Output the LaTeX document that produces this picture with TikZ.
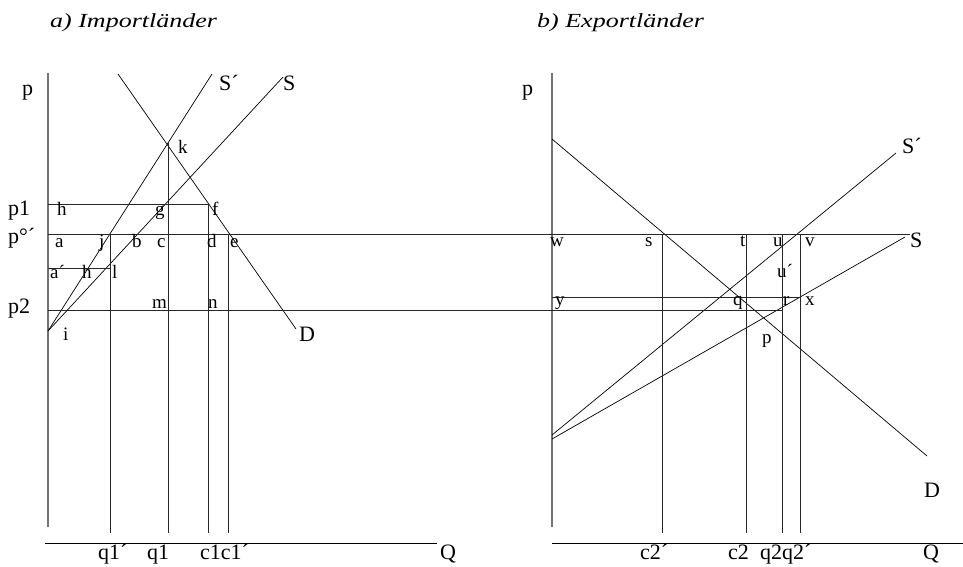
\documentclass[tikz,border=0pt]{standalone}
\usepackage{fontspec}
\setmainfont{Liberation Serif}
\newfontfamily\titlefont{Liberation Serif}[FakeStretch=1.3]
\usetikzlibrary{calc}

\begin{document}
\begin{tikzpicture}[
    x=1pt, y=-1pt,
    curve/.style={line width=0.7pt, color=black},
    guide/.style={line width=0.8pt, color=black!85},
    paxis/.style={line width=1.1pt, color=black!55},
    qaxis/.style={line width=0.8pt, color=black},
    lbl/.style={font=\fontsize{19}{19}\selectfont, inner sep=0pt, anchor=base west},
    big/.style={font=\fontsize{22}{22}\selectfont, inner sep=0pt, anchor=base west},
    ttl/.style={font=\titlefont\fontsize{20}{20}\selectfont\itshape, inner sep=0pt, anchor=base west},
  ]
  \useasboundingbox (0,0) rectangle (963,566);

  % Titles
  \node[ttl] (ttlA) at (50,27)  {a) Importländer};
  \node[ttl] (ttlB) at (537,27) {b) Exportländer};

  % a) Importländer -- points
  \coordinate (pTopA) at (48,73);
  \coordinate (pBotA) at (48,527);
  \coordinate (qLA)   at (45,543);
  \coordinate (qRA)   at (437,543);
  \coordinate (ptI)   at (48,331);
  \coordinate (spEndA) at (212,74);
  \coordinate (sEndA)  at (283,77);
  \coordinate (dTopA)  at (118,74);
  \coordinate (dEndA)  at (296,329);
  \coordinate (ptK) at (168,143);
  \coordinate (ptH) at (48,204);
  \coordinate (ptF) at (208,204);
  \coordinate (ptA) at (48,234);
  \coordinate (ptJ) at (110,234);
  \coordinate (ptE) at (228,234);
  \coordinate (ptAp) at (48,268);
  \coordinate (ptL)  at (110,268);
  \coordinate (ptP2) at (48,310);
  \coordinate (ptJb) at (110,533);
  \coordinate (ptKb) at (168,533);
  \coordinate (ptFb) at (208,533);
  \coordinate (ptEb) at (228,533);

  % b) Exportländer -- points
  \coordinate (pTopB) at (552,73);
  \coordinate (pBotB) at (552,527);
  \coordinate (qLB)   at (552,543);
  \coordinate (qRB)   at (963,543);
  \coordinate (dTopB) at (552,139);
  \coordinate (dEndB) at (927,456);
  \coordinate (spStB) at (552,435);
  \coordinate (spEndB) at (896,153);
  \coordinate (sStB)  at (552,439);
  \coordinate (sEndB) at (905,237);
  \coordinate (ptVend) at (910,234);
  \coordinate (ptY) at (552,297);
  \coordinate (ptX) at (800,297);
  \coordinate (ptR) at (782,310);
  \coordinate (ptS) at (662,234);
  \coordinate (ptT) at (746,234);
  \coordinate (ptU) at (782,234);
  \coordinate (ptV) at (800,234);
  \coordinate (ptSb) at (662,533);
  \coordinate (ptTb) at (746,533);
  \coordinate (ptUb) at (782,533);
  \coordinate (ptVb) at (800,533);

  % axes
  \draw[paxis] (pTopA) -- (pBotA);
  \draw[qaxis] (qLA) -- (qRA);
  \draw[paxis] (pTopB) -- (pBotB);
  \draw[qaxis] (qLB) -- (qRB);

  % supply and demand, import side
  \draw[curve] (ptI) -- (spEndA);
  \draw[curve] (ptI) -- (sEndA);
  \draw[curve] (dTopA) -- (dEndA);

  % supply and demand, export side
  \draw[curve] (dTopB) -- (dEndB);
  \draw[curve] (spStB) -- (spEndB);
  \draw[curve] (sStB) -- (sEndB);

  % price lines
  \draw[guide] (ptH) -- (ptF);
  \draw[guide] (ptA) -- (ptVend);
  \draw[guide] (ptAp) -- (ptL);
  \draw[guide] (ptP2) -- (ptR);
  \draw[guide] (ptY) -- (ptX);

  % quantity lines
  \draw[guide] (ptJ) -- (ptJb);
  \draw[guide] (ptK) -- (ptKb);
  \draw[guide] (ptF) -- (ptFb);
  \draw[guide] (ptE) -- (ptEb);
  \draw[guide] (ptS) -- (ptSb);
  \draw[guide] (ptT) -- (ptTb);
  \draw[guide] (ptU) -- (ptUb);
  \draw[guide] (ptV) -- (ptVb);

  % labels, import side
  \node[big] (lpA)  at (22,95)  {p};
  \node[big] (lp1)  at (8,215)  {p1};
  \node[big] (lp0)  at (8,243)  {p°´};
  \node[big] (lp2)  at (8,313)  {p2};
  \node[big] (lSpA) at (219,90) {S´};
  \node[big] (lSA)  at (283,90) {S};
  \node[big] (lDA)  at (299,341) {D};
  \node[lbl] (lh)  at (57,215)  {h};
  \node[lbl] (lg)  at (155,215) {g};
  \node[lbl] (lf)  at (212,215) {f};
  \node[lbl] (la)  at (55,247)  {a};
  \node[lbl] (lj)  at (99,247)  {j};
  \node[lbl] (lb)  at (132,247) {b};
  \node[lbl] (lc)  at (157,247) {c};
  \node[lbl] (ld)  at (207,247) {d};
  \node[lbl] (le)  at (230,247) {e};
  \node[lbl] (lap) at (50,278)  {a´};
  \node[lbl] (lh2) at (82,278)  {h};
  \node[lbl] (ll)  at (112,278) {l};
  \node[lbl] (lm)  at (152,308) {m};
  \node[lbl] (ln)  at (208,308) {n};
  \node[lbl] (li)  at (63,340)  {i};
  \node[lbl] (lk)  at (178,153) {k};
  \node[big] (lq1p) at (98,559)  {q1´};
  \node[big] (lq1)  at (147,559) {q1};
  \node[big] (lc1)  at (200,559) {c1c1´};
  \node[big] (lQA)  at (440,559) {Q};

  % labels, export side
  \node[big] (lpB)  at (522,95)  {p};
  \node[big] (lSpB) at (902,153) {S´};
  \node[big] (lSB)  at (910,247) {S};
  \node[big] (lDB)  at (924,497) {D};
  \node[lbl] (lw)  at (550,246) {w};
  \node[lbl] (ls)  at (645,246) {s};
  \node[lbl] (lt)  at (740,246) {t};
  \node[lbl] (lu)  at (773,246) {u};
  \node[lbl] (lv)  at (805,246) {v};
  \node[lbl] (lup) at (777,277) {u´};
  \node[lbl] (ly)  at (555,305) {y};
  \node[lbl] (lq)  at (733,305) {q};
  \node[lbl] (lr)  at (783,305) {r};
  \node[lbl] (lx)  at (805,305) {x};
  \node[lbl] (lp)  at (762,343) {p};
  \node[big] (lc2p) at (640,559) {c2´};
  \node[big] (lc2)  at (728,559) {c2};
  \node[big] (lq2)  at (760,559) {q2q2´};
  \node[big] (lQB)  at (923,559) {Q};
\end{tikzpicture}
\end{document}
